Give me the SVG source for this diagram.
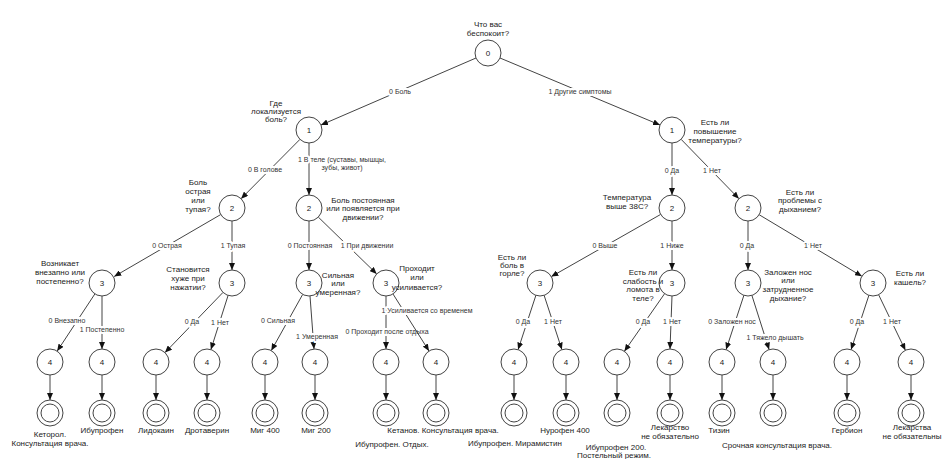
<svg xmlns="http://www.w3.org/2000/svg" width="945" height="459" viewBox="0 0 945 459">
<style>
text{font-family:"Liberation Sans",Arial,sans-serif;font-size:7px;fill:#333;text-anchor:middle}
.n circle{fill:#fff;stroke:#444;stroke-width:1}
.n text{font-size:8px;fill:#222}
.e line{stroke:#444;stroke-width:1;marker-end:url(#ah)}
.e text{stroke:#fff;stroke-width:4;stroke-linejoin:round;paint-order:stroke}
</style>
<defs>
<marker id="ah" markerUnits="userSpaceOnUse" markerWidth="7" markerHeight="6" refX="7" refY="3" orient="auto">
<path d="M0,0 L7,3 L0,6 z" fill="#111"/>
</marker>
</defs>
<rect width="945" height="459" fill="#fff"/>

<g id="connectors" class="e">
<line x1="476" y1="58" x2="321" y2="125"/><text x="400" y="93.5">0 Боль</text>
<line x1="500" y1="58" x2="660" y2="125"/><text x="580" y="93.5">1 Другие симптомы</text>
<line x1="300" y1="139.3" x2="241.1" y2="198.7"/><text x="265" y="171.5">0 В голове</text>
<line x1="309" y1="143" x2="309" y2="195"/><text x="342" y="161.5">1 В теле (суставы, мышцы,</text><text x="342" y="169.5">зубы, живот)</text>
<line x1="672" y1="143" x2="672" y2="195"/><text x="672" y="172.5">0 Да</text>
<line x1="681.1" y1="139.3" x2="738.9" y2="198.7"/><text x="712" y="172.5">1 Нет</text>

<line x1="220.8" y1="214.5" x2="114.2" y2="276.5"/><text x="167" y="247.5">0 Острая</text>
<line x1="232" y1="221" x2="232" y2="270"/><text x="233" y="247.5">1 Тупая</text>
<line x1="309" y1="221" x2="309" y2="270"/><text x="310" y="247.5">0 Постоянная</text>
<line x1="318.3" y1="217.1" x2="376.7" y2="273.9"/><text x="367" y="247.5">1 При движении</text>
<line x1="660.7" y1="214.4" x2="551.3" y2="276.6"/><text x="605" y="247.5">0 Выше</text>
<line x1="672" y1="221" x2="672" y2="270"/><text x="672" y="247.5">1 Ниже</text>
<line x1="748" y1="221" x2="748" y2="270"/><text x="747" y="247.5">0 Да</text>
<line x1="759.1" y1="214.7" x2="861.9" y2="276.3"/><text x="813" y="247.5">1 Нет</text>

<line x1="94.9" y1="293.9" x2="57.2" y2="351.1"/><text x="67" y="322.5">0 Внезапно</text>
<line x1="102" y1="296" x2="102" y2="349"/><text x="102" y="331.5">1 Постепенно</text>
<line x1="223" y1="292.4" x2="165" y2="352.6"/><text x="192" y="323.5">0 Да</text>
<line x1="228.1" y1="295.4" x2="210.9" y2="349.6"/><text x="220" y="324.5">1 Нет</text>
<line x1="302.7" y1="294.4" x2="271.3" y2="350.6"/><text x="278" y="322.5">0 Сильная</text>
<line x1="310" y1="296" x2="314" y2="349"/><text x="317" y="338.5">1 Умеренная</text>
<line x1="386" y1="296" x2="386" y2="349"/><text x="387" y="333.5">0 Проходит после отдыха</text>
<line x1="393" y1="294" x2="429" y2="351"/><text x="427" y="312.5">1 Усиливается со временем</text>
<line x1="535.9" y1="295.3" x2="518.1" y2="349.6"/><text x="523" y="323.5">0 Да</text>
<line x1="544.1" y1="295.3" x2="561.9" y2="349.6"/><text x="553" y="323.5">1 Нет</text>
<line x1="664.6" y1="293.7" x2="624.4" y2="351.3"/><text x="643" y="323.5">0 Да</text>
<line x1="672" y1="296" x2="670" y2="349"/><text x="672" y="323.5">1 Нет</text>
<line x1="743.9" y1="295.3" x2="726.1" y2="349.6"/><text x="732" y="323.5">0 Заложен нос</text>
<line x1="751.9" y1="295.4" x2="769.1" y2="349.6"/><text x="775" y="339.5">1 Тяжело дышать</text>
<line x1="868.9" y1="295.3" x2="851.1" y2="349.6"/><text x="857" y="323.5">0 Да</text>
<line x1="878.6" y1="294.7" x2="905.4" y2="350.3"/><text x="892" y="323.5">1 Нет</text>

<line x1="50" y1="375" x2="50" y2="400"/>
<line x1="102" y1="375" x2="102" y2="400"/>
<line x1="156" y1="375" x2="156" y2="400"/>
<line x1="207" y1="375" x2="207" y2="400"/>
<line x1="265" y1="375" x2="265" y2="400"/>
<line x1="315" y1="375" x2="315" y2="400"/>
<line x1="386" y1="375" x2="386" y2="400"/>
<line x1="436" y1="375" x2="436" y2="400"/>
<line x1="514" y1="375" x2="514" y2="400"/>
<line x1="566" y1="375" x2="566" y2="400"/>
<line x1="617" y1="375" x2="617" y2="400"/>
<line x1="670" y1="375" x2="670" y2="400"/>
<line x1="722" y1="375" x2="722" y2="400"/>
<line x1="773" y1="375" x2="773" y2="400"/>
<line x1="847" y1="375" x2="847" y2="400"/>
<line x1="911" y1="375" x2="911" y2="400"/>
</g>

<g id="n0" class="n"><circle cx="488" cy="53" r="13"/><text x="488" y="56">0</text><text x="488" y="26.5">Что вас</text><text x="488" y="35.5">беспокоит?</text></g>

<g id="n1a" class="n"><circle cx="309" cy="130" r="13"/><text x="309" y="133">1</text><text x="276" y="105.5">Где</text><text x="276" y="113.5">локализуется</text><text x="276" y="121.5">боль?</text></g>
<g id="n1b" class="n"><circle cx="672" cy="130" r="13"/><text x="672" y="133">1</text><text x="715" y="124.5">Есть ли</text><text x="715" y="133.5">повышение</text><text x="715" y="143">температуры?</text></g>

<g id="n2a" class="n"><circle cx="232" cy="208" r="13"/><text x="232" y="211">2</text><text x="198" y="184.5">Боль</text><text x="198" y="193.5">острая</text><text x="198" y="202.5">или</text><text x="198" y="211.5">тупая?</text></g>
<g id="n2b" class="n"><circle cx="309" cy="208" r="13"/><text x="309" y="211">2</text><text x="363" y="202.5">Боль постоянная</text><text x="363" y="211">или появляется при</text><text x="363" y="219.5">движении?</text></g>
<g id="n2c" class="n"><circle cx="672" cy="208" r="13"/><text x="672" y="211">2</text><text x="627" y="199.5">Температура</text><text x="627" y="208.5">выше 38С?</text></g>
<g id="n2d" class="n"><circle cx="748" cy="208" r="13"/><text x="748" y="211">2</text><text x="800" y="194.5">Есть ли</text><text x="800" y="203">проблемы с</text><text x="800" y="211.5">дыханием?</text></g>

<g id="n3a" class="n"><circle cx="102" cy="283" r="13"/><text x="102" y="286">3</text><text x="60" y="265.5">Возникает</text><text x="60" y="274.5">внезапно или</text><text x="60" y="284">постепенно?</text></g>
<g id="n3b" class="n"><circle cx="232" cy="283" r="13"/><text x="232" y="286">3</text><text x="188" y="271.5">Становится</text><text x="188" y="280.5">хуже при</text><text x="188" y="289.5">нажатии?</text></g>
<g id="n3c" class="n"><circle cx="309" cy="283" r="13"/><text x="309" y="286">3</text><text x="338" y="277.5">Сильная</text><text x="338" y="285.5">или</text><text x="338" y="294.5">умеренная?</text></g>
<g id="n3d" class="n"><circle cx="386" cy="283" r="13"/><text x="386" y="286">3</text><text x="417" y="270.5">Проходит</text><text x="417" y="280">или</text><text x="417" y="289.5">усиливается?</text></g>
<g id="n3e" class="n"><circle cx="540" cy="283" r="13"/><text x="540" y="286">3</text><text x="512" y="259.5">Есть ли</text><text x="512" y="267.5">боль в</text><text x="512" y="275.5">горле?</text></g>
<g id="n3f" class="n"><circle cx="672" cy="283" r="13"/><text x="672" y="286">3</text><text x="643" y="274.5">Есть ли</text><text x="643" y="283.5">слабость и</text><text x="643" y="292">ломота в</text><text x="643" y="300.5">теле?</text></g>
<g id="n3g" class="n"><circle cx="748" cy="283" r="13"/><text x="748" y="286">3</text><text x="788" y="274.5">Заложен нос</text><text x="788" y="282.5">или</text><text x="788" y="291.5">затрудненное</text><text x="788" y="300.5">дыхание?</text></g>
<g id="n3h" class="n"><circle cx="873" cy="283" r="13"/><text x="873" y="286">3</text><text x="910" y="275.5">Есть ли</text><text x="910" y="284.5">кашель?</text></g>

<g id="n4-1" class="n"><circle cx="50" cy="362" r="13"/><text x="50" y="365">4</text></g>
<g id="n4-2" class="n"><circle cx="102" cy="362" r="13"/><text x="102" y="365">4</text></g>
<g id="n4-3" class="n"><circle cx="156" cy="362" r="13"/><text x="156" y="365">4</text></g>
<g id="n4-4" class="n"><circle cx="207" cy="362" r="13"/><text x="207" y="365">4</text></g>
<g id="n4-5" class="n"><circle cx="265" cy="362" r="13"/><text x="265" y="365">4</text></g>
<g id="n4-6" class="n"><circle cx="315" cy="362" r="13"/><text x="315" y="365">4</text></g>
<g id="n4-7" class="n"><circle cx="386" cy="362" r="13"/><text x="386" y="365">4</text></g>
<g id="n4-8" class="n"><circle cx="436" cy="362" r="13"/><text x="436" y="365">4</text></g>
<g id="n4-9" class="n"><circle cx="514" cy="362" r="13"/><text x="514" y="365">4</text></g>
<g id="n4-10" class="n"><circle cx="566" cy="362" r="13"/><text x="566" y="365">4</text></g>
<g id="n4-11" class="n"><circle cx="617" cy="362" r="13"/><text x="617" y="365">4</text></g>
<g id="n4-12" class="n"><circle cx="670" cy="362" r="13"/><text x="670" y="365">4</text></g>
<g id="n4-13" class="n"><circle cx="722" cy="362" r="13"/><text x="722" y="365">4</text></g>
<g id="n4-14" class="n"><circle cx="773" cy="362" r="13"/><text x="773" y="365">4</text></g>
<g id="n4-15" class="n"><circle cx="847" cy="362" r="13"/><text x="847" y="365">4</text></g>
<g id="n4-16" class="n"><circle cx="911" cy="362" r="13"/><text x="911" y="365">4</text></g>

<g id="f1" class="n"><circle cx="50" cy="413" r="13"/><circle cx="50" cy="413" r="9"/><text x="50" y="436.5">Кеторол.</text><text x="50" y="445.5">Консультация врача.</text></g>
<g id="f2" class="n"><circle cx="102" cy="413" r="13"/><circle cx="102" cy="413" r="9"/><text x="102" y="432.5">Ибупрофен</text></g>
<g id="f3" class="n"><circle cx="156" cy="413" r="13"/><circle cx="156" cy="413" r="9"/><text x="156" y="432.5">Лидокаин</text></g>
<g id="f4" class="n"><circle cx="207" cy="413" r="13"/><circle cx="207" cy="413" r="9"/><text x="207" y="432.5">Дротаверин</text></g>
<g id="f5" class="n"><circle cx="265" cy="413" r="13"/><circle cx="265" cy="413" r="9"/><text x="265" y="432.5">Миг 400</text></g>
<g id="f6" class="n"><circle cx="315" cy="413" r="13"/><circle cx="315" cy="413" r="9"/><text x="316" y="432.5">Миг 200</text></g>
<g id="f7" class="n"><circle cx="386" cy="413" r="13"/><circle cx="386" cy="413" r="9"/><text x="392" y="446.5">Ибупрофен. Отдых.</text></g>
<g id="f8" class="n"><circle cx="436" cy="413" r="13"/><circle cx="436" cy="413" r="9"/><text x="443" y="432.5">Кетанов. Консультация врача.</text></g>
<g id="f9" class="n"><circle cx="514" cy="413" r="13"/><circle cx="514" cy="413" r="9"/><text x="515" y="445.5">Ибупрофен. Мирамистин</text></g>
<g id="f10" class="n"><circle cx="566" cy="413" r="13"/><circle cx="566" cy="413" r="9"/><text x="565" y="432.5">Нурофен 400</text></g>
<g id="f11" class="n"><circle cx="617" cy="413" r="13"/><circle cx="617" cy="413" r="9"/><text x="616" y="450">Ибупрофен 200.</text><text x="614" y="458">Постельный режим.</text></g>
<g id="f12" class="n"><circle cx="670" cy="413" r="13"/><circle cx="670" cy="413" r="9"/><text x="670" y="430">Лекарство</text><text x="670" y="439">не обязательно</text></g>
<g id="f13" class="n"><circle cx="722" cy="413" r="13"/><circle cx="722" cy="413" r="9"/><text x="719" y="432.5">Тизин</text></g>
<g id="f14" class="n"><circle cx="773" cy="413" r="13"/><circle cx="773" cy="413" r="9"/><text x="777" y="447.5">Срочная консультация врача.</text></g>
<g id="f15" class="n"><circle cx="847" cy="413" r="13"/><circle cx="847" cy="413" r="9"/><text x="847" y="432.5">Гербион</text></g>
<g id="f16" class="n"><circle cx="911" cy="413" r="13"/><circle cx="911" cy="413" r="9"/><text x="912" y="430">Лекарства</text><text x="912" y="439">не обязательны</text></g>
</svg>
